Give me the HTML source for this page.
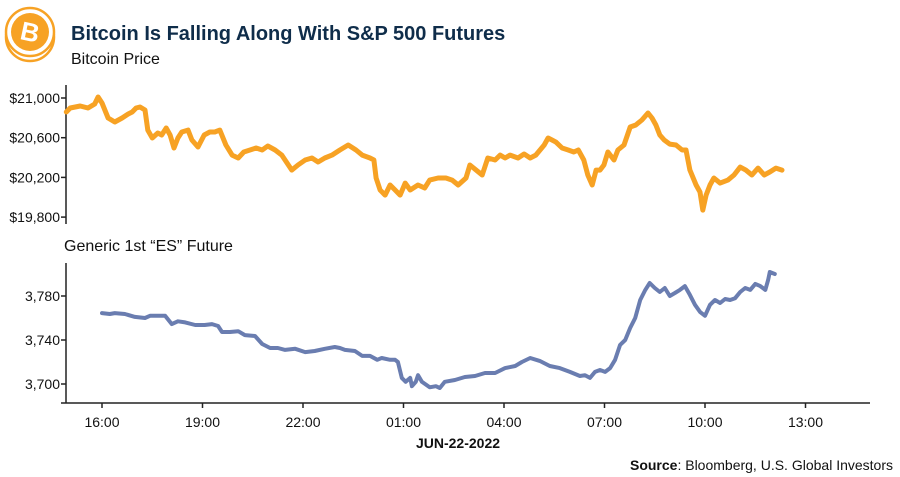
<!DOCTYPE html>
<html><head><meta charset="utf-8"><style>
body{margin:0;background:#fff;width:900px;height:477px;overflow:hidden;font-family:"Liberation Sans",sans-serif}
svg{display:block}
</style></head><body>
<svg width="900" height="477">
<g>
<circle cx="30" cy="37" r="24" fill="#fff" stroke="#f7a224" stroke-width="2.5"/>
<circle cx="30" cy="32" r="24" fill="#fff" stroke="#f7a224" stroke-width="2.5"/>
<circle cx="30" cy="32" r="19" fill="#f7a224"/>
<text x="30" y="41" text-anchor="middle" font-size="26" font-weight="bold" fill="#fff" transform="rotate(12 30 32)">B</text>
</g>
<text x="71" y="40" font-size="20" font-weight="bold" fill="#0f2d4a">Bitcoin Is Falling Along With S&amp;P 500 Futures</text>
<text x="71" y="64" font-size="16" fill="#111">Bitcoin Price</text>
<text x="64" y="251" font-size="16" fill="#111">Generic 1st “ES” Future</text>
<g id="g1"></g><g id="g2"></g>
<text x="458" y="448" text-anchor="middle" font-size="14" font-weight="bold" fill="#111">JUN-22-2022</text>
<text x="893" y="470" text-anchor="end" font-size="14" fill="#111"><tspan font-weight="bold">Source</tspan>: Bloomberg, U.S. Global Investors</text>
</svg>
<script>
const btcMinutes=[-64,-57,-39,-25,-13,-7,0,11,23,36,47,54,61,68,77,82,90,100,107,115,122,129,136,143,154,161,172,183,193,202,211,222,233,244,254,265,276,287,297,310,322,340,351,364,376,387,399,412,426,441,455,466,480,487,491,498,507,516,525,534,543,552,566,578,587,602,616,627,638,652,659,670,681,691,704,713,722,731,745,756,767,777,792,799,806,813,824,835,845,853,863,870,878,885,892,899,906,917,924,935,946,956,967,978,985,992,999,1007,1017,1028,1039,1046,1053,1064,1071,1076,1082,1089,1096,1107,1121,1132,1143,1153,1164,1175,1186,1196,1207,1218];
const btcValues=[20859,20899,20919,20899,20940,21010,20950,20798,20758,20798,20839,20859,20899,20909,20879,20677,20597,20647,20627,20698,20627,20496,20597,20657,20677,20577,20506,20627,20657,20657,20677,20526,20425,20395,20456,20476,20496,20476,20516,20476,20425,20274,20325,20375,20395,20355,20395,20425,20476,20526,20476,20425,20395,20375,20194,20073,20022,20123,20073,20022,20143,20073,20123,20093,20173,20194,20194,20173,20123,20194,20325,20274,20224,20395,20375,20425,20395,20425,20395,20436,20395,20425,20526,20597,20577,20556,20496,20476,20456,20476,20375,20224,20123,20274,20274,20325,20456,20375,20476,20526,20708,20728,20778,20849,20798,20728,20627,20577,20536,20526,20476,20476,20274,20123,20052,19871,20022,20123,20194,20143,20173,20224,20304,20274,20224,20294,20224,20254,20294,20274];
const esMinutes=[0,14,23,41,59,77,86,104,113,125,136,149,167,184,197,208,215,229,244,256,274,287,301,315,328,346,364,381,399,417,426,435,453,466,480,493,501,516,525,530,537,544,552,555,562,566,573,587,598,605,614,632,650,668,686,704,722,740,752,767,784,802,820,838,856,865,874,883,892,901,910,919,928,937,946,955,964,973,981,990,999,1008,1017,1026,1035,1044,1053,1062,1071,1080,1089,1098,1107,1116,1125,1134,1143,1152,1161,1170,1179,1188,1193,1196,1205];
const esValues=[3764.5,3763.6,3764.5,3763.6,3761,3760,3762,3762,3762,3754.5,3757,3756,3753.6,3753.6,3754.5,3752.7,3747.3,3747.3,3748,3744.5,3743.6,3736.4,3732.7,3732.7,3731,3732,3729,3730,3732,3733.6,3732.7,3731,3730,3725.5,3725.5,3722,3723.6,3722,3722,3720,3705.5,3702,3705.5,3698,3702,3708,3702,3697,3698,3696.4,3702,3703.6,3706.4,3707.3,3710,3710,3714.5,3716.4,3720,3723.6,3721,3716.4,3714.5,3711,3707.3,3708,3705.5,3711,3712.7,3711,3714.5,3722,3735.5,3740,3751,3760,3776.4,3785.5,3791.8,3787.3,3783.6,3787.3,3780,3782.7,3785.5,3789,3781,3772,3765.5,3762,3772,3776.4,3773.6,3777.3,3776.4,3778,3783.6,3787.3,3785.5,3791,3789,3785.5,3794.5,3801.8,3800];
const btcTicks=[21000,20600,20200,19800];
const btcTickLabels=["$21,000","$20,600","$20,200","$19,800"];
const esTicks=[3780,3740,3700];
const esTickLabels=["3,780","3,740","3,700"];
const xTickHours=[0,3,6,9,12,15,18,21];
const xTickLabels=["16:00","19:00","22:00","01:00","04:00","07:00","10:00","13:00"];

const NS="http://www.w3.org/2000/svg";
const X0=66,X1=870;
const xMin=m=>102+m*33.5/60;
const yB=v=>98+(21000-v)*39.7/400;
const yE=v=>296+(3780-v)*1.1;
function mk(p,tag,a){const e=document.createElementNS(NS,tag);for(const k in a)e.setAttribute(k,a[k]);p.appendChild(e);return e;}
const g1=document.getElementById('g1'),g2=document.getElementById('g2');

let ax=mk(g1,'line',{x1:X0,y1:85,x2:X0,y2:224,stroke:'#222','stroke-width':1.5});


btcTicks.forEach((t,i)=>{
  const y=yB(t);
  const tk=mk(g1,'line',{x1:X0-5,y1:y,x2:X0,y2:y,stroke:'#222','stroke-width':1.5});
  
  
  const tx=mk(g1,'text',{x:X0-6,y:y+5,'text-anchor':'end','font-size':14,fill:'#111'});
  tx.textContent=btcTickLabels[i];
  
  
});
let pl=mk(g1,'polyline',{points:btcMinutes.map((m,i)=>xMin(m).toFixed(1)+','+yB(btcValues[i]).toFixed(1)).join(' '),fill:'none',stroke:'#f7a224','stroke-width':5,'stroke-linejoin':'round','stroke-linecap':'round'});



ax=mk(g2,'line',{x1:X0,y1:263,x2:X0,y2:403,stroke:'#222','stroke-width':1.5});


let xa=mk(g2,'line',{x1:X0-5,y1:403,x2:X1,y2:403,stroke:'#222','stroke-width':1.5});


esTicks.forEach((t,i)=>{
  const y=yE(t);
  const tk=mk(g2,'line',{x1:X0-5,y1:y,x2:X0,y2:y,stroke:'#222','stroke-width':1.5});
  
  
  const tx=mk(g2,'text',{x:X0-6,y:y+5,'text-anchor':'end','font-size':14,fill:'#111'});
  tx.textContent=esTickLabels[i];
  
  
});
xTickHours.forEach((h,i)=>{
  const x=xMin(h*60);
  const tk=mk(g2,'line',{x1:x,y1:403,x2:x,y2:408,stroke:'#222','stroke-width':1.5});
  
  
  const tx=mk(g2,'text',{x:x,y:427,'text-anchor':'middle','font-size':14,fill:'#111'});
  tx.textContent=xTickLabels[i];
  
  
});
pl=mk(g2,'polyline',{points:esMinutes.map((m,i)=>xMin(m).toFixed(1)+','+yE(esValues[i]).toFixed(1)).join(' '),fill:'none',stroke:'#6a7db0','stroke-width':4,'stroke-linejoin':'round','stroke-linecap':'round'});


</script>
</body></html>
